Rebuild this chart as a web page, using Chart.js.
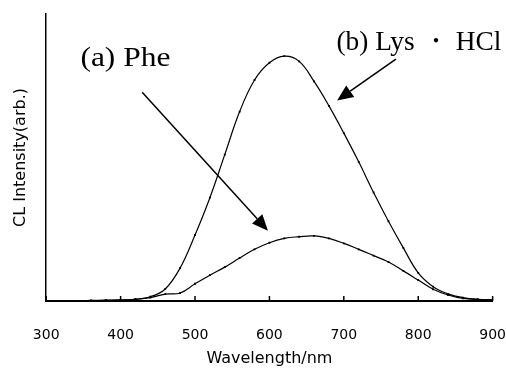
<!DOCTYPE html>
<html lang="ja">
  <head>
    <meta charset="UTF-8" />
    <title>CL Intensity</title>
    <script src="https://cdn.jsdelivr.net/npm/chart.js@4.4.0/dist/chart.umd.min.js"></script>
    <style>
      html,
      body {
        margin: 0;
        padding: 0;
        background: #fff;
      }
      .chart-container {
        width: 506px;
        height: 371px;
      }
    </style>
  </head>
  <body>
    <div class="chart-container">
      <canvas id="chart-cl"></canvas>
    </div>
    <script>
      // wavelength (nm) and CL intensity
      const wavelengths = [
        340, 360, 380, 400, 420, 440, 460, 480, 500, 520, 540, 560, 580, 600,
        620, 640, 660, 680, 700, 720, 740, 760, 780, 800, 820, 840, 860, 880,
        900,
      ];
      const pheValues = [
        0, 0.1, 0.2, 0.3, 0.6, 1.2, 2.4, 2.8, 6, 9, 11.8, 15, 18, 20.3, 21.8,
        22.4, 22.7, 21.8, 20.1, 18, 15.8, 13.6, 10.5, 7.3, 4.1, 2.1, 0.9, 0.5,
        0.4,
      ];
      const lysValues = [
        0, 0.2, 0.3, 0.4, 0.6, 1.5, 4.2, 11.5, 23, 36, 51, 66, 77, 83, 85.3,
        83.5, 76.5, 68, 58.5, 48.5, 37.8, 27.8, 18.5, 9.8, 5, 2.5, 1.2, 0.6,
        0.4,
      ];
      const xTickRange = [300, 900];

      // labels + arrows, positions given in data units
      const notes = [
        { text: "(a) Phe", x: 346, y: 82, width: 90 },
        { text: "(b) Lys ・ HCl", x: 690, y: 87.5, width: 165 },
      ];
      const arrows = [
        { from: [429, 72.7], to: [598, 24.5] },
        { from: [770, 84.3], to: [691, 69.9] },
      ];

      const toPoints = (vals) => vals.map((v, i) => ({ x: wavelengths[i], y: v }));

      const innerTicks = {
        id: "innerTicks",
        afterDatasetsDraw(chart) {
          const { ctx, chartArea } = chart;
          const x = chart.scales.x;
          ctx.save();
          ctx.strokeStyle = "#000";
          ctx.lineWidth = 1.5;
          x.ticks.forEach((t) => {
            const px = x.getPixelForValue(t.value);
            ctx.beginPath();
            ctx.moveTo(px, chartArea.bottom);
            ctx.lineTo(px, chartArea.bottom - 5);
            ctx.stroke();
          });
          ctx.restore();
        },
      };

      const annotations = {
        id: "annotations",
        afterDraw(chart) {
          const { ctx } = chart;
          const x = chart.scales.x;
          const y = chart.scales.y;
          ctx.save();
          ctx.fillStyle = "#000";
          ctx.strokeStyle = "#000";

          for (const a of arrows) {
            const x1 = x.getPixelForValue(a.from[0]);
            const y1 = y.getPixelForValue(a.from[1]);
            const x2 = x.getPixelForValue(a.to[0]);
            const y2 = y.getPixelForValue(a.to[1]);
            const ang = Math.atan2(y2 - y1, x2 - x1);
            const len = 16;
            const half = 7;
            const bx = x2 - len * Math.cos(ang);
            const by = y2 - len * Math.sin(ang);
            ctx.lineWidth = 1.5;
            ctx.beginPath();
            ctx.moveTo(x1, y1);
            ctx.lineTo(bx, by);
            ctx.stroke();
            ctx.beginPath();
            ctx.moveTo(x2, y2);
            ctx.lineTo(bx + half * Math.sin(ang), by - half * Math.cos(ang));
            ctx.lineTo(bx - half * Math.sin(ang), by + half * Math.cos(ang));
            ctx.closePath();
            ctx.fill();
          }

          ctx.font = '28px "Liberation Serif", serif';
          ctx.textBaseline = "alphabetic";
          for (const n of notes) {
            const px = x.getPixelForValue(n.x);
            const py = y.getPixelForValue(n.y);
            const w = ctx.measureText(n.text).width;
            ctx.save();
            ctx.translate(px, py);
            ctx.scale(n.width / w, 1);
            ctx.fillText(n.text, 0, 0);
            ctx.restore();
          }
          ctx.restore();
        },
      };

      const lineStyle = {
        borderColor: "#000",
        backgroundColor: "#000",
        borderWidth: 1.2,
        pointRadius: 1.3,
        pointStyle: "rect",
        pointBorderWidth: 0,
        tension: 0.4,
        fill: false,
      };

      new Chart(document.getElementById("chart-cl"), {
        type: "line",
        data: {
          datasets: [
            { label: "(a) Phe", data: toPoints(pheValues), ...lineStyle },
            { label: "(b) Lys・HCl", data: toPoints(lysValues), ...lineStyle },
          ],
        },
        options: {
          responsive: true,
          maintainAspectRatio: false,
          animation: false,
          layout: { padding: { top: 14, left: 11, right: 0, bottom: 0 } },
          plugins: { legend: { display: false }, tooltip: { enabled: false } },
          scales: {
            x: {
              type: "linear",
              min: xTickRange[0],
              max: xTickRange[1],
              ticks: {
                stepSize: 100,
                padding: 0,
                color: "#000",
                font: { family: "DejaVu Sans", size: 14 },
              },
              // invisible outward ticks just push the labels down
              grid: {
                display: true,
                drawOnChartArea: false,
                drawTicks: true,
                tickLength: 26,
                tickColor: "rgba(0,0,0,0)",
              },
              border: { display: true, color: "#000", width: 2 },
              title: {
                display: true,
                text: "Wavelength/nm",
                color: "#000",
                font: { family: "DejaVu Sans", size: 16 },
                padding: { top: 5, bottom: 3 },
              },
            },
            y: {
              min: 0,
              max: 100,
              ticks: { display: false },
              grid: { display: false, drawTicks: false },
              border: { display: true, color: "#000", width: 1.5 },
              title: {
                display: true,
                text: "CL Intensity(arb.)",
                color: "#000",
                font: { family: "DejaVu Sans", size: 16 },
                padding: { top: 0, bottom: 16 },
              },
            },
          },
        },
        plugins: [innerTicks, annotations],
      });
    </script>
  </body>
</html>
